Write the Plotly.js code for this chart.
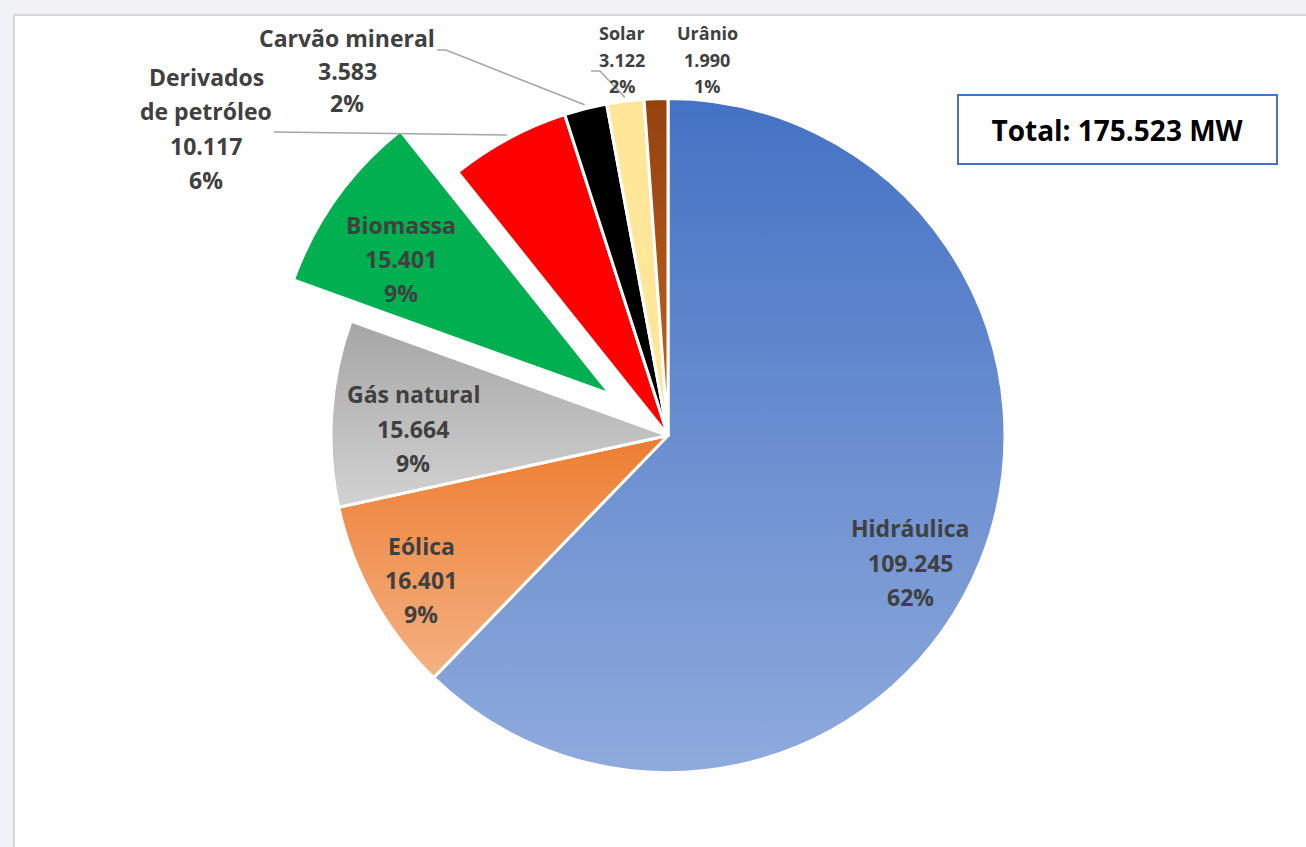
<!DOCTYPE html>
<html>
<head>
<meta charset="utf-8">
<script src="https://cdn.plot.ly/plotly-3.0.1.min.js"></script>
<style>
  html, body { margin:0; padding:0; width:1306px; height:847px; overflow:hidden; background:#f0f2f5; }
  #panel { position:absolute; left:13px; top:14px; width:1400px; height:1000px; background:#ffffff;
           border-left:2px solid #d6d6d6; border-top:2px solid #d9d9d9; }
  #chart { position:absolute; left:0; top:0; width:1306px; height:900px; }
</style>
</head>
<body>
<div id="panel"></div>
<div id="chart"></div>
<script>
// ---------------- DATA ----------------
const categories = ['Hidráulica', 'Eólica', 'Gás natural', 'Biomassa', 'Derivados de petróleo', 'Carvão mineral', 'Solar', 'Urânio'];
const labelNames = ['Hidráulica', 'Eólica', 'Gás natural', 'Biomassa', 'Derivados<br>de petróleo', 'Carvão mineral', 'Solar', 'Urânio'];
const capacityMW = [109245, 16401, 15664, 15401, 10117, 3583, 3122, 1990];
const totalLabel = 'Total';
const unit = 'MW';

// ---------------- STYLE / LAYOUT ----------------
const W = 1306, H = 900;
const pieCx = 668, pieCy = 435.5, pieR = 337;
const pulls = [0, 0, 0, 0.21, 0, 0, 0, 0];
const baseColors = ['#6a8fd2', '#f0995a', '#bdbdbd', '#00b050', '#ff0000', '#000000', '#ffe699', '#ae5519'];
const gradients = [
  ['#4472c4', '#8faadc'],
  ['#ed7d31', '#f4b183'],
  ['#a5a5a5', '#d2d2d2'],
  null, null, null, null,
  ['#94420f', '#c4631f']
];
// label placement (pixels): center x, first line center y, line spacing, font size
const labelPos = [
  {x: 910, y: 528, dy: 34.5, size: 23},
  {x: 421, y: 546, dy: 34, size: 23},
  {x: 413, y: 394, dy: 34.5, size: 23},
  {x: 401, y: 225, dy: 34, size: 23},
  {x: 206, y: 77, dy: 34.3, size: 23},
  {x: 347, y: 38, dy: 32.5, size: 23},
  {x: 622, y: 33, dy: 26.5, size: 18},
  {x: 707, y: 33, dy: 26.5, size: 18}
];
// leader lines: label-side points in pixels (slice end is computed from the data)
const leaders = {
  4: [[274, 132]],
  5: [[437, 50], [446, 50]],
  6: [[591, 71], [600, 71]]
};
const labelColor = '#404040';
const fontFam = '"Open Sans", "Noto Sans", sans-serif';

// ---------------- HELPERS ----------------
const fmt = n => String(n).replace(/\B(?=(\d{3})+(?!\d))/g, '.');
const px = x => x / W;
const py = y => 1 - y / H;
const total = capacityMW.reduce((a, b) => a + b, 0);

// pie domain so that radius = pieR given max pull
const maxPull = Math.max(...pulls);
const half = pieR * (1 + maxPull);
const domY = [py(pieCy + half), py(pieCy - half)];
const domX = [px(pieCx - half * 1.3), px(pieCx + half * 1.3)];

// ---------------- ANNOTATIONS ----------------
const annotations = [];
categories.forEach((c, i) => {
  const lines = labelNames[i].split('<br>').concat([fmt(capacityMW[i]), Math.round(capacityMW[i] / total * 100) + '%']);
  const p = labelPos[i];
  lines.forEach((t, k) => {
    annotations.push({
      xref: 'paper', yref: 'paper', x: px(p.x), y: py(p.y + k * p.dy),
      xanchor: 'center', yanchor: 'middle', showarrow: false, text: t,
      font: {family: fontFam, size: p.size, color: labelColor, weight: 700}
    });
  });
});
annotations.push({
  xref: 'paper', yref: 'paper', x: px(1117.5), y: py(129.5), xanchor: 'center', yanchor: 'middle',
  showarrow: false, text: totalLabel + ': ' + fmt(total) + ' ' + unit,
  font: {family: fontFam, size: 28, color: '#000000', weight: 700},
  bordercolor: '#4472c4', borderwidth: 2, borderpad: 0, bgcolor: '#ffffff', width: 317, height: 67
});

// ---------------- LEADER LINES ----------------
const shapes = [];
let cum = 0;
const midAngles = capacityMW.map(v => { const a = (cum + v / 2) / total * 2 * Math.PI; cum += v; return a; });
Object.keys(leaders).forEach(k => {
  const i = +k;
  const a = midAngles[i];
  const rr = pieR * 1.012;
  const end = [pieCx + rr * Math.sin(a), pieCy - rr * Math.cos(a)];
  const pts = leaders[k].concat([end]);
  const path = pts.map((q, j) => (j ? 'L' : 'M') + px(q[0]).toFixed(5) + ',' + py(q[1]).toFixed(5)).join(' ');
  shapes.push({type: 'path', xref: 'paper', yref: 'paper', path: path,
    line: {color: '#a6a6a6', width: 1.6}, fillcolor: 'rgba(0,0,0,0)'});
});

// ---------------- PLOT ----------------
const trace = {
  type: 'pie',
  labels: categories,
  values: capacityMW,
  sort: false,
  direction: 'clockwise',
  rotation: 0,
  pull: pulls,
  textinfo: 'none',
  hoverinfo: 'skip',
  marker: {colors: baseColors, line: {color: '#ffffff', width: 3}},
  domain: {x: domX, y: domY},
  showlegend: false
};
const layout = {
  width: W, height: H,
  margin: {l: 0, r: 0, t: 0, b: 0},
  paper_bgcolor: 'rgba(0,0,0,0)',
  plot_bgcolor: 'rgba(0,0,0,0)',
  showlegend: false,
  annotations: annotations,
  shapes: shapes,
  font: {family: fontFam}
};
const gd = document.getElementById('chart');
Plotly.newPlot(gd, [trace], layout, {staticPlot: true, displayModeBar: false}).then(() => {
  const svg = gd.querySelector('svg.main-svg');
  const NS = 'http://www.w3.org/2000/svg';
  let defs = svg.querySelector('defs');
  if (!defs) { defs = document.createElementNS(NS, 'defs'); svg.insertBefore(defs, svg.firstChild); }
  const paths = gd.querySelectorAll('g.slice path.surface');
  gradients.forEach((g, i) => {
    if (!g || !paths[i]) return;
    const lg = document.createElementNS(NS, 'linearGradient');
    lg.setAttribute('id', 'sliceGrad' + i);
    lg.setAttribute('x1', '0'); lg.setAttribute('y1', '0');
    lg.setAttribute('x2', '0'); lg.setAttribute('y2', '1');
    g.forEach((c, j) => {
      const s = document.createElementNS(NS, 'stop');
      s.setAttribute('offset', j / (g.length - 1));
      s.setAttribute('stop-color', c);
      lg.appendChild(s);
    });
    defs.appendChild(lg);
    paths[i].style.fill = 'url(#sliceGrad' + i + ')';
  });
});
</script>
</body>
</html>
